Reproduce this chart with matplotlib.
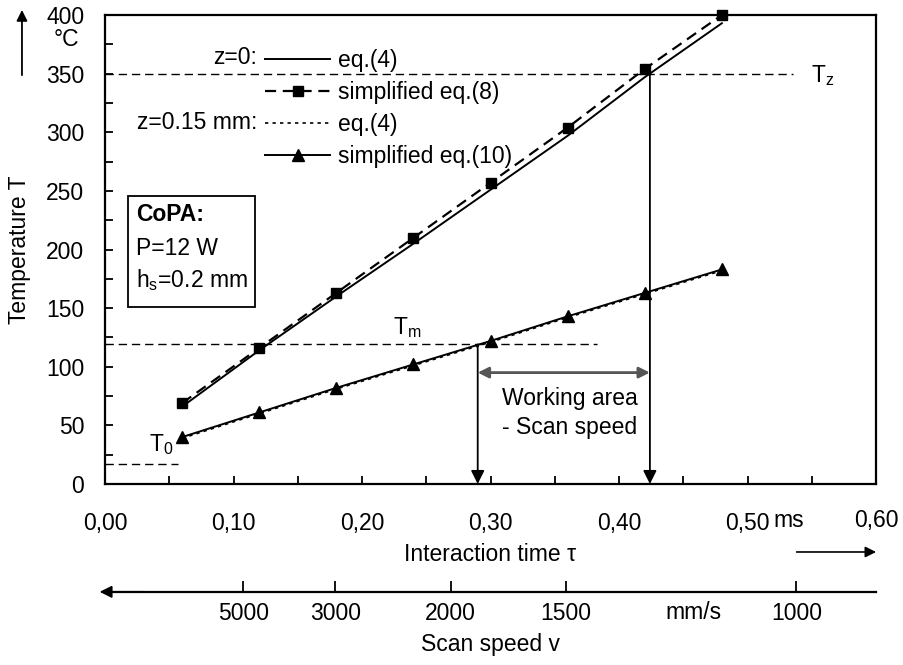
import numpy as np
import matplotlib.pyplot as plt
from matplotlib.patches import Rectangle
from matplotlib.ticker import MultipleLocator, FuncFormatter

plt.rcParams['font.family'] = ['Liberation Sans', 'DejaVu Sans']
plt.rcParams['mathtext.fontset'] = 'custom'
plt.rcParams['mathtext.rm'] = 'Liberation Sans'
plt.rcParams['mathtext.bf'] = 'Liberation Sans:bold'
plt.rcParams['mathtext.default'] = 'regular'

# interaction time in ms
tau = [0.06, 0.12, 0.18, 0.24, 0.30, 0.36, 0.42, 0.48]
# temperatures in degC
T_eq4_z0 = [66, 114, 160, 205, 251, 297, 347, 393]
T_eq8_z0 = [69, 116, 163, 210, 257, 304, 354, 400]
T_eq4_z015 = [39, 60, 81, 101, 121, 142, 162, 182]
T_eq10_z015 = [40, 61, 82, 102, 122, 143, 163, 183]

# reference temperatures
T0, Tm, Tz = 17, 119, 350
tau_T0_end, tau_Tm_end, tau_Tz_end = 0.057, 0.383, 0.535
tau_at_Tm, tau_at_Tz = 0.29, 0.424
T_work = 95

# scan speed axis, v = d / tau
d_scan = 538.0
speed_ticks = [5000, 3000, 2000, 1500, 1000]

fs = 16.5
fig = plt.figure(figsize=(9.04, 6.65), dpi=100)
ax = fig.add_axes([0.1162, 0.2722, 0.8529, 0.7052])

l1, = ax.plot(tau, T_eq4_z0, color='black', lw=1.4, label='eq.(4)')
l2, = ax.plot(tau, T_eq8_z0, color='black', lw=1.6, ls=(0, (5, 3)),
              marker='s', ms=7, label='simplified eq.(8)', clip_on=False)
l3, = ax.plot(tau, T_eq4_z015, color='black', lw=1.2, ls=(0, (2, 2.5)),
              label='eq.(4)')
l4, = ax.plot(tau, T_eq10_z015, color='black', lw=1.4, marker='^', ms=8,
              label='simplified eq.(10)', clip_on=False)

dash = (0, (6, 3.5))
ax.plot([0, tau_T0_end], [T0, T0], color='black', lw=1, ls=dash)
ax.plot([0, tau_Tm_end], [Tm, Tm], color='black', lw=1, ls=dash)
ax.plot([0, tau_Tz_end], [Tz, Tz], color='black', lw=1, ls=dash)

ax.text(0.034, 34, 'T$_0$', fontsize=fs, ha='left', va='center')
ax.text(0.224, Tm + 4, 'T$_m$', fontsize=fs, ha='left', va='bottom')
ax.text(0.549, Tz - 2, 'T$_z$', fontsize=fs, ha='left', va='center')

# vertical arrows
for t, T in [(tau_at_Tm, Tm), (tau_at_Tz, Tz)]:
    ax.annotate('', xy=(t, 0), xytext=(t, T),
                arrowprops=dict(arrowstyle='-|>', color='black', lw=1.3,
                                mutation_scale=20, shrinkA=0, shrinkB=0))

# working area double arrow
ax.annotate('', xy=(tau_at_Tm, T_work), xytext=(tau_at_Tz, T_work),
            arrowprops=dict(arrowstyle='<|-|>', color='#555555', lw=2,
                            mutation_scale=16, shrinkA=0, shrinkB=0))
ax.text(0.309, 73, 'Working area', fontsize=fs, ha='left', va='center')
ax.text(0.309, 48, '- Scan speed', fontsize=fs, ha='left', va='center')

# CoPA box
ax.add_patch(Rectangle((0.0298, 0.377), 0.1647, 0.237, transform=ax.transAxes,
                       fill=False, lw=1.3, ec='black'))
ax.text(0.0402, 0.5736, 'CoPA:', transform=ax.transAxes, fontsize=fs,
        fontweight='bold', va='center')
ax.text(0.0402, 0.503, 'P=12 W', transform=ax.transAxes, fontsize=fs, va='center')
ax.text(0.0402, 0.435, 'h$_s$=0.2 mm', transform=ax.transAxes, fontsize=fs,
        va='center')

# legend
leg = ax.legend(handles=[l1, l2, l3, l4], loc='upper left',
                bbox_to_anchor=(0.2075, 0.928), frameon=False, fontsize=fs,
                handlelength=2.85, handletextpad=0.35, labelspacing=0.39,
                borderpad=0, borderaxespad=0, numpoints=1)
ax.text(0.197, 0.910, 'z=0:', transform=ax.transAxes, fontsize=fs,
        ha='right', va='center')
ax.text(0.197, 0.770, 'z=0.15 mm:', transform=ax.transAxes, fontsize=fs,
        ha='right', va='center')

ax.set_xlim(0, 0.6)
ax.set_ylim(0, 400)
ax.xaxis.set_major_locator(MultipleLocator(0.1))
ax.xaxis.set_minor_locator(MultipleLocator(0.05))
ax.yaxis.set_major_locator(MultipleLocator(50))
ax.yaxis.set_minor_locator(MultipleLocator(25))
ax.xaxis.set_major_formatter(FuncFormatter(
    lambda v, p: '' if v > 0.55 else f'{v:.2f}'.replace('.', ',')))
ax.tick_params(which='both', direction='in', length=6, width=1.3,
               labelsize=fs)
ax.tick_params(axis='x', pad=20)
ax.tick_params(axis='y', pad=15)
for s in ax.spines.values():
    s.set_linewidth(1.6)

# extra labels around the axes
ax.text(0.6, -0.077, '0,60', transform=ax.get_xaxis_transform(),
        fontsize=fs, ha='center', va='center')
ax.text(0.532, -0.077, 'ms', transform=ax.get_xaxis_transform(),
        fontsize=fs, ha='center', va='center')
ax.set_xlabel('Interaction time \u03c4', fontsize=fs, labelpad=6)
ax.annotate('', xy=(1.0, -0.145), xytext=(0.897, -0.145),
            xycoords='axes fraction',
            arrowprops=dict(arrowstyle='-|>', color='black', lw=1.2,
                            mutation_scale=16, shrinkA=0, shrinkB=0))

fig.text(0.073, 0.940, '\u00b0C', fontsize=fs, ha='center', va='center')
fig.text(0.022, 0.624, 'Temperature T', fontsize=fs, rotation=90,
         ha='center', va='center')
ax.annotate('', xy=(0.0243, 0.985), xytext=(0.0243, 0.887),
            xycoords='figure fraction',
            arrowprops=dict(arrowstyle='-|>', color='black', lw=1.3,
                            mutation_scale=16, shrinkA=0, shrinkB=0))

# scan speed axis
def tau_to_v(t):
    t = np.asarray(t, dtype=float)
    with np.errstate(divide='ignore'):
        return d_scan / np.where(t == 0, 1e-9, t)

sec = ax.secondary_xaxis(-0.23, functions=(tau_to_v, tau_to_v))
sec.set_xticks(speed_ticks)
sec.set_xticklabels([str(v) for v in speed_ticks])
sec.tick_params(direction='in', length=8, width=1.3, labelsize=fs, pad=7)
sec.spines['bottom'].set_linewidth(1.6)
sec.set_xlabel('Scan speed v', fontsize=fs, labelpad=6)
sec.xaxis.set_minor_locator(plt.NullLocator())
ax.text(0.763, -0.274, 'mm/s', transform=ax.transAxes, fontsize=fs,
        ha='center', va='center')
ax.annotate('', xy=(-0.007, -0.23), xytext=(0.05, -0.23),
            xycoords='axes fraction',
            arrowprops=dict(arrowstyle='-|>', color='black', lw=1.3,
                            mutation_scale=18, shrinkA=0, shrinkB=0))

fig.savefig('out.png', dpi=100)
